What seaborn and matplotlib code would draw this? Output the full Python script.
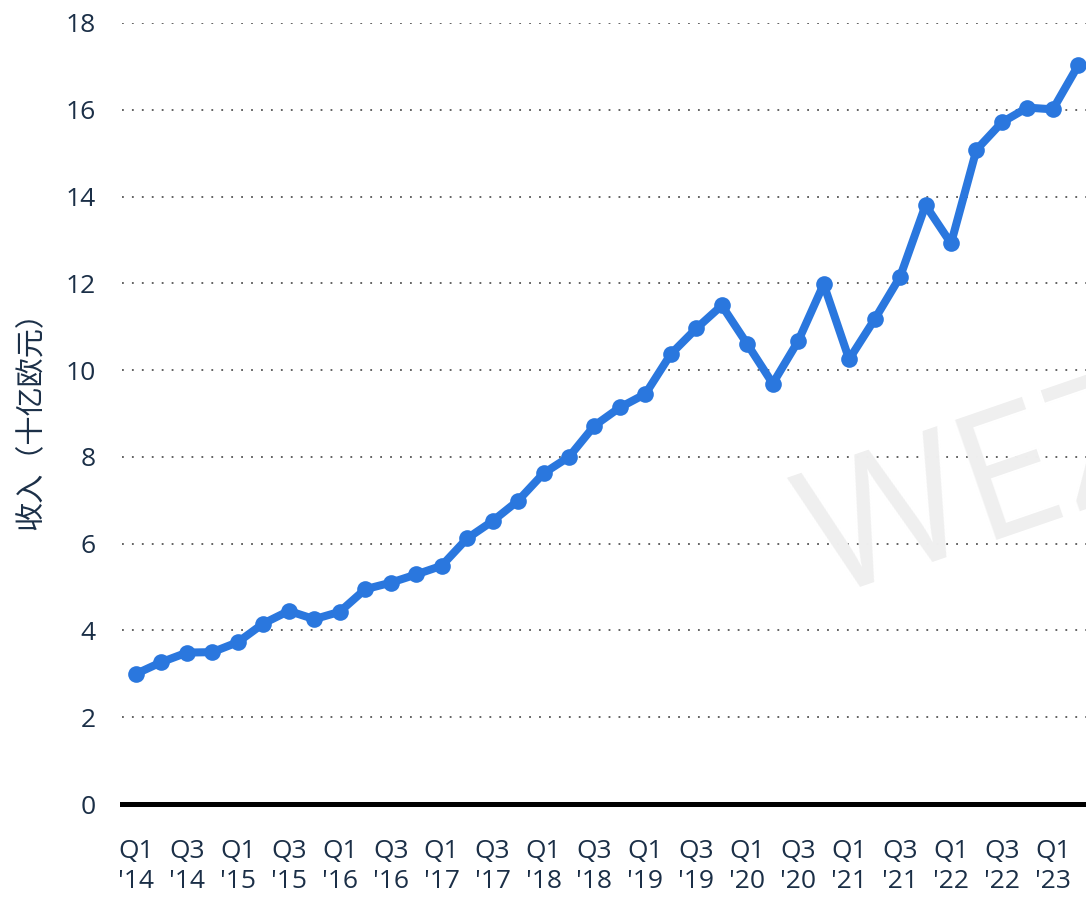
import matplotlib
matplotlib.use("Agg")
import matplotlib.pyplot as plt
import seaborn as sns
import pandas as pd

# DATA
quarters = ["Q1 '14", "Q2 '14", "Q3 '14", "Q4 '14",
            "Q1 '15", "Q2 '15", "Q3 '15", "Q4 '15",
            "Q1 '16", "Q2 '16", "Q3 '16", "Q4 '16",
            "Q1 '17", "Q2 '17", "Q3 '17", "Q4 '17",
            "Q1 '18", "Q2 '18", "Q3 '18", "Q4 '18",
            "Q1 '19", "Q2 '19", "Q3 '19", "Q4 '19",
            "Q1 '20", "Q2 '20", "Q3 '20", "Q4 '20",
            "Q1 '21", "Q2 '21", "Q3 '21", "Q4 '21",
            "Q1 '22", "Q2 '22", "Q3 '22", "Q4 '22",
            "Q1 '23", "Q2 '23"]
revenue = [3.00, 3.27, 3.49, 3.50,
           3.73, 4.16, 4.45, 4.26,
           4.43, 4.95, 5.10, 5.29,
           5.49, 6.12, 6.52, 6.99,
           7.62, 8.00, 8.72, 9.14,
           9.45, 10.37, 10.96, 11.49,
           10.60, 9.69, 10.67, 11.98,
           10.25, 11.17, 12.15, 13.80,
           12.92, 15.08, 15.71, 16.05,
           16.01, 17.03]
y_label = "收入（十亿欧元）"
y_ticks = [0, 2, 4, 6, 8, 10, 12, 14, 16, 18]

df = pd.DataFrame({"pos": range(len(quarters)), "revenue": revenue})

# STYLE
sns.set_style("white")
plt.rcParams['font.family'] = ['Open Sans', 'Noto Sans CJK SC', 'DejaVu Sans']
text_color = "#1b2f47"
line_color = "#2a77de"

fig = plt.figure(figsize=(10.86, 9), dpi=100)
ax = fig.add_axes([122 / 1086, 1 - 804 / 900, 1 - 122 / 1086, (804 - 23) / 900])

# watermark (cut by the right edge, as in the original)
fig.text(0.76, 0.335, "WEZ", fontsize=128, color="#efefef", rotation=19,
         rotation_mode="anchor", ha="left", va="baseline", zorder=0)

# LINE
sns.lineplot(data=df, x="pos", y="revenue", ax=ax, color=line_color,
             linewidth=5.8, marker="o", markersize=12, markeredgewidth=0,
             clip_on=False, zorder=5)

ax.set_xlim(-0.55, 37.3)
ax.set_ylim(0, 18)
ax.set_yticks(y_ticks)
ax.set_yticklabels([str(t) for t in y_ticks])
ax.set_xticks(list(range(0, len(quarters), 2)))
ax.set_xticklabels([quarters[i].replace(" ", "\n") for i in range(0, len(quarters), 2)],
                   linespacing=1.3)
ax.tick_params(axis="both", length=0, labelsize=19, labelcolor=text_color)
ax.tick_params(axis="y", pad=19)
ax.tick_params(axis="x", pad=25)

ax.set_ylabel(y_label, fontsize=21, color=text_color, labelpad=14)
ax.set_xlabel("")

# GRID
ax.yaxis.grid(True, linestyle=(0, (1, 4.5)), linewidth=1.3, color="#555555")
ax.xaxis.grid(False)
for s in ["top", "right", "left"]:
    ax.spines[s].set_visible(False)
ax.spines["bottom"].set_color("black")
ax.spines["bottom"].set_linewidth(3.6)
ax.set_axisbelow(True)
ax.patch.set_alpha(0)

fig.savefig("out.png", dpi=100)
